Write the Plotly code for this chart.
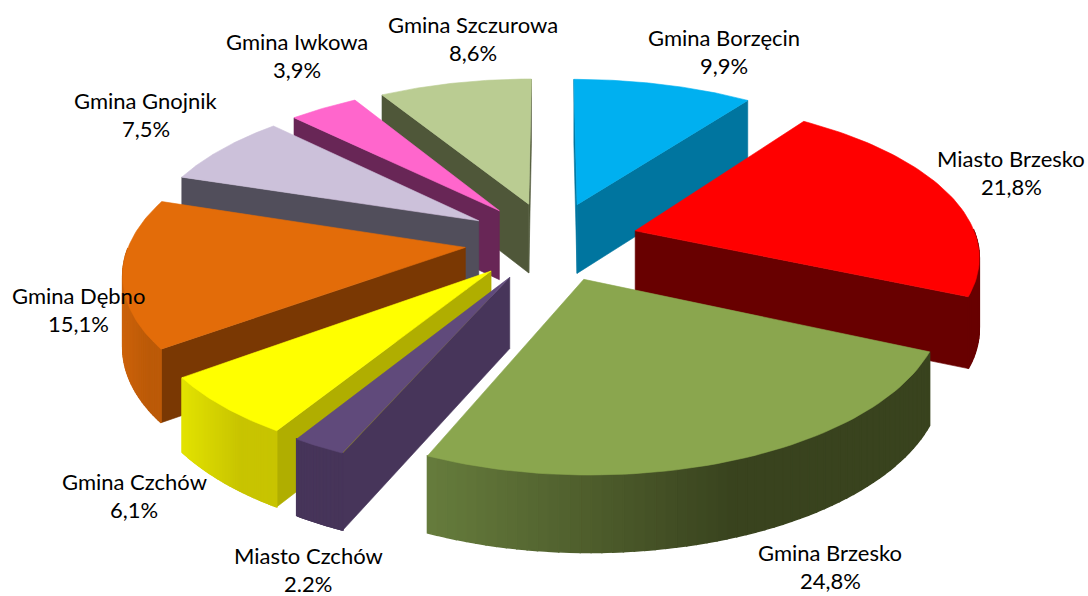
import math
import plotly.graph_objects as go

categories = ["Gmina Borzęcin", "Miasto Brzesko", "Gmina Brzesko", "Miasto Czchów", "Gmina Czchów",
              "Gmina Dębno", "Gmina Gnojnik", "Gmina Iwkowa", "Gmina Szczurowa"]
values = [9.9, 21.8, 24.8, 2.2, 6.1, 15.1, 7.5, 3.9, 8.6]
value_labels = ["9,9%", "21,8%", "24,8%", "2.2%", "6,1%", "15,1%", "7,5%", "3,9%", "8,6%"]

top_colors = ["#00B0F0", "#FF0000", "#8AA64E", "#604A7B", "#FFFF00", "#E36C09", "#CCC1DA", "#FF66CC", "#BACC92"]
side_colors = ["#00759F", "#680000", "#39431E", "#47355A", "#B0AE00", "#7A3803", "#514E5B", "#682656", "#4F5739"]
# outer wall shading: colour at the leftmost and at the rightmost screen end
wall_left = ["#00759F", "#680000", "#667C3C", "#47355A", "#E2E200", "#CC620A", "#514E5B", "#682656", "#4F5739"]
wall_right = ["#00759F", "#680000", "#39431E", "#47355A", "#C8C400", "#BC5A08", "#514E5B", "#682656", "#4F5739"]

label_xy = [(724, 51), (1011, 172), (830, 566), (308, 569), (134, 495), (78, 309), (146, 114), (297, 55), (473, 38)]

CX, CY = 551, 241
RADIUS, EXPLODE = 342, 88
TILT, DEPTH_X, DEPTH_Y, THICK = 0.45, 2400, 2300, 70
LEFT_SCALE = 0.98


def project(X, Y, Z=0.0):
    sx = X * DEPTH_X / (DEPTH_X - Y)
    if sx < 0:
        sx *= LEFT_SCALE
    f = DEPTH_Y / (DEPTH_Y - Y)
    return CX + sx, CY + Y * TILT * f + Z * math.sqrt(f)


def hex_mix(a, b, t):
    ca = [int(a[i:i + 2], 16) for i in (1, 3, 5)]
    cb = [int(b[i:i + 2], 16) for i in (1, 3, 5)]
    return "#" + "".join(f"{round(x + (y - x) * t):02X}" for x, y in zip(ca, cb))


def poly(fig, pts, color, width=0.6):
    fig.add_trace(go.Scatter(x=[p[0] for p in pts] + [pts[0][0]], y=[p[1] for p in pts] + [pts[0][1]],
                             mode="lines", fill="toself", fillcolor=color,
                             line=dict(color=color, width=width), hoverinfo="skip", showlegend=False))


total = sum(values)
wedges = []
start = 0.0
for i, v in enumerate(values):
    sweep = v / total * 2 * math.pi
    wedges.append((i, start, start + sweep))
    start += sweep

fig = go.Figure()

for i, a0, a1 in sorted(wedges, key=lambda w: -math.cos((w[1] + w[2]) / 2)):
    mid = (a0 + a1) / 2
    ox, oy = EXPLODE * math.sin(mid), -EXPLODE * math.cos(mid)
    n = 60
    ang = [a0 + (a1 - a0) * k / n for k in range(n + 1)]
    rim = [(ox + RADIUS * math.sin(a), oy - RADIUS * math.cos(a)) for a in ang]
    apex_top = project(ox, oy)
    apex_bot = project(ox, oy, THICK)

    # radial walls, shown when they face the viewer
    for end, sign in ((rim[0], -1), (rim[-1], 1)):
        e_top = project(*end)
        ony = (end[0] - ox) * sign
        if ony > -0.02 * RADIUS:
            poly(fig, [apex_top, e_top, project(*end, THICK), apex_bot], side_colors[i])

    # outer curved wall in shaded strips
    xs = [project(*p)[0] for p in rim]
    lo, hi = min(xs), max(xs)
    for k in range(n):
        a_m = (ang[k] + ang[k + 1]) / 2
        if math.cos(a_m) > 0.0:
            continue
        t = ((xs[k] + xs[k + 1]) / 2 - lo) / max(hi - lo, 1)
        poly(fig, [project(*rim[k]), project(*rim[k + 1]),
                   project(*rim[k + 1], THICK), project(*rim[k], THICK)],
             hex_mix(wall_left[i], wall_right[i], min(1, t * 1.65)), width=1.5)

    # top surface
    poly(fig, [apex_top] + [project(*p) for p in rim], top_colors[i])

for name, lab, (x, y) in zip(categories, value_labels, label_xy):
    for text, dy in ((name, -14), (lab, 14)):
        fig.add_annotation(x=x, y=y + dy, text=text, showarrow=False, align="center",
                           font=dict(family="Lato", size=22, color="#000000"),
                           xanchor="center", yanchor="middle")

fig.update_layout(width=1088, height=596, margin=dict(l=0, r=0, t=0, b=0), paper_bgcolor="#FFFFFF",
                  plot_bgcolor="#FFFFFF", showlegend=False,
                  xaxis=dict(range=[0, 1088], visible=False, fixedrange=True),
                  yaxis=dict(range=[596, 0], visible=False, fixedrange=True))
fig.write_html("out.html", config={"displayModeBar": False},
               post_script="document.body.style.margin='0';document.documentElement.style.overflow='hidden';")
